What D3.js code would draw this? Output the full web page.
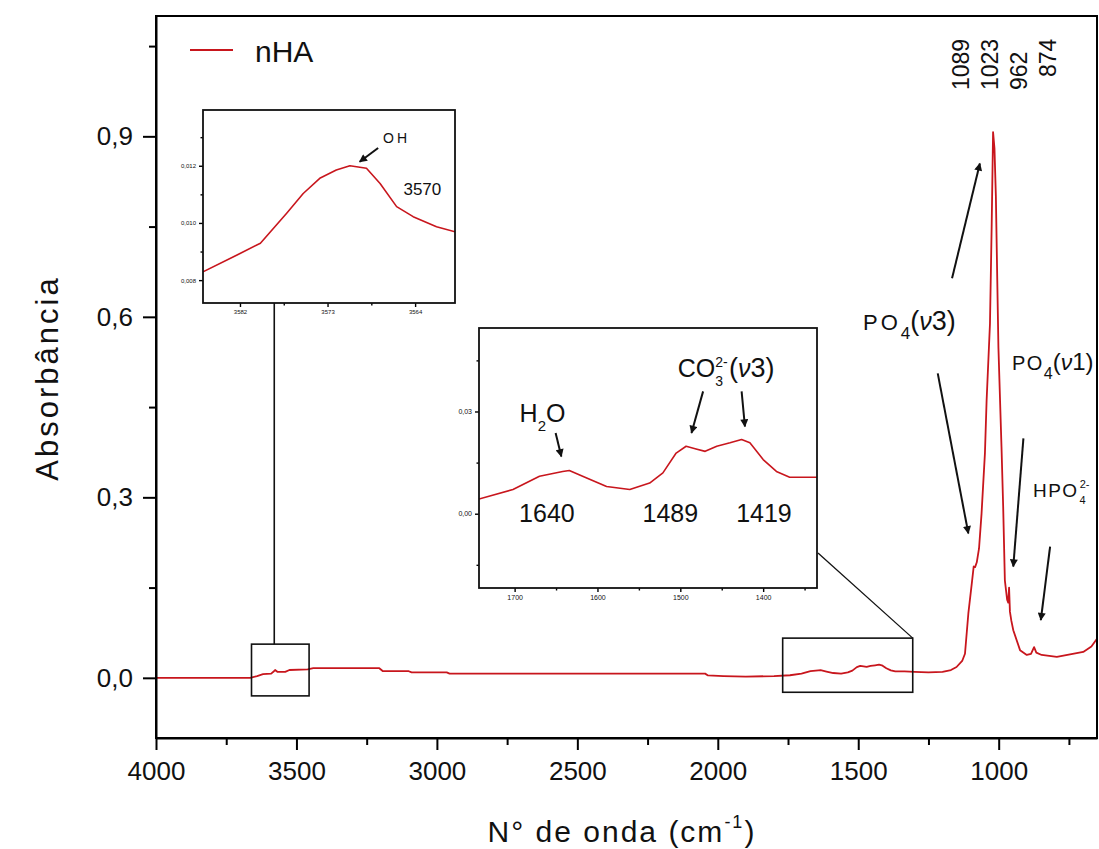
<!DOCTYPE html>
<html>
<head>
<meta charset="utf-8">
<title>FTIR nHA</title>
<script src="https://cdnjs.cloudflare.com/ajax/libs/d3/7.8.5/d3.min.js"></script>
<style>
  body { margin:0; background:#fff; }
  svg { display:block; font-family:"Liberation Sans", Arial, sans-serif; }
  .axis path, .axis line { stroke:#000; }
  .axis text { fill:#111; font-family:"Liberation Sans", Arial, sans-serif; }
  .spec { fill:none; stroke:#c8161d; stroke-width:1.8; stroke-linejoin:round; }
  .frame { fill:none; stroke:#000; stroke-width:2; }
  .arrow { stroke:#111; stroke-width:2; fill:none; }
  .lbl { fill:#111; }
</style>
</head>
<body>
<script>
// spectrum (wavenumber cm-1, absorbance)
var waveNumber = [4000, 3800, 3665, 3640, 3619, 3590, 3580, 3576, 3568, 3540, 3525, 3460, 3440, 3300,
  3205, 3192, 3100, 3090, 2965, 2955, 2800, 2600, 2300, 2045, 2035, 1980, 1900, 1800,
  1743, 1702, 1670, 1642, 1634, 1613, 1589, 1561, 1537, 1521, 1505, 1493, 1481, 1470, 1456,
  1440, 1426, 1416, 1400, 1384, 1368, 1335, 1300, 1250, 1200, 1170, 1150, 1130, 1120, 1108,
  1095, 1089, 1084, 1078, 1070, 1061, 1049, 1043, 1031, 1025, 1020, 1015, 1010, 1005, 1001,
  990, 984, 978, 970, 966, 963, 960, 955, 948, 924, 900, 885, 874, 866, 847, 793, 699, 670, 650];
var absorbance = [0.000, 0.000, 0.000, 0.003, 0.006, 0.007, 0.011, 0.013, 0.010, 0.010, 0.013, 0.014, 0.016, 0.016,
  0.016, 0.011, 0.011, 0.009, 0.009, 0.007, 0.007, 0.007, 0.007, 0.007, 0.004, 0.003, 0.002, 0.003,
  0.0043, 0.0071, 0.011, 0.0124, 0.0127, 0.0105, 0.008, 0.0071, 0.009, 0.012, 0.0178, 0.0198, 0.019, 0.0183, 0.0198,
  0.0208, 0.0218, 0.0208, 0.0159, 0.0124, 0.0107, 0.0107, 0.010, 0.009, 0.010, 0.013, 0.018, 0.028, 0.040, 0.107,
  0.160, 0.185, 0.184, 0.192, 0.215, 0.273, 0.373, 0.461, 0.589, 0.750, 0.907, 0.880, 0.800, 0.660, 0.550,
  0.384, 0.284, 0.162, 0.130, 0.125, 0.150, 0.110, 0.095, 0.079, 0.046, 0.038, 0.040, 0.051, 0.042, 0.038, 0.035, 0.043, 0.052, 0.065];

// OH band inset
var ohWave = [3585.8, 3582.3, 3579.9, 3577.2, 3575.5, 3573.8, 3572.1, 3570.7, 3569.0, 3567.6, 3565.9, 3564.2, 3561.8, 3559.9];
var ohAbs = [0.00829, 0.00888, 0.00929, 0.01034, 0.01103, 0.01156, 0.01185, 0.0120, 0.01191, 0.01138, 0.01057, 0.01022, 0.00987, 0.00969];

var xMajor = [4000, 3500, 3000, 2500, 2000, 1500, 1000];
var xMinor = [3750, 3250, 2750, 2250, 1750, 1250, 750];
var yMajor = [0, 0.3, 0.6, 0.9];
var yMinor = [0.15, 0.45, 0.75, 1.05];

var in1XMajor = [3582, 3573, 3564], in1XMinor = [3577.5, 3568.5];
var in1YMajor = [0.008, 0.010, 0.012], in1YMinor = [0.009, 0.011, 0.013];
var in2XMajor = [1700, 1600, 1500, 1400], in2XMinor = [1650, 1550, 1450, 1350];
var in2YMajor = [0, 0.03], in2YMinor = [-0.015, 0.015, 0.045];

var peakLabels = ["1089", "1023", "962", "874"];
var seriesName = "nHA";

var width = 1099, height = 849;
var pt = d3.formatLocale({decimal: ",", thousands: ".", grouping: [3], currency: ["", ""]});

var svg = d3.select("body").append("svg")
    .attr("width", width)
    .attr("height", height);

var defs = svg.append("defs");
defs.append("marker")
    .attr("id", "head")
    .attr("viewBox", "0 0 10 10")
    .attr("refX", 9).attr("refY", 5)
    .attr("markerUnits", "userSpaceOnUse")
    .attr("markerWidth", 9).attr("markerHeight", 8)
    .attr("orient", "auto")
  .append("path").attr("d", "M0,0L10,5L0,10z").attr("fill", "#111");

var x = d3.scaleLinear().domain([4000, 650]).range([156, 1097]);
var y = d3.scaleLinear().domain([-0.1, 1.1]).range([738, 16]);

var spec = waveNumber.map(function(w, i) { return [w, absorbance[i]]; });
var line = d3.line().x(function(d) { return x(d[0]); }).y(function(d) { return y(d[1]); });

defs.append("clipPath").attr("id", "clipMain")
  .append("rect").attr("x", 156).attr("y", 16).attr("width", 941).attr("height", 722);

svg.append("path").datum(spec)
    .attr("class", "spec")
    .attr("clip-path", "url(#clipMain)")
    .attr("d", line);

// main axes
var gx = svg.append("g").attr("class", "axis").attr("transform", "translate(0,738)")
    .call(d3.axisBottom(x).tickValues(xMajor).tickSize(12).tickSizeOuter(0).tickPadding(12).tickFormat(d3.format("d")));
gx.selectAll("text").style("font-size", "26px");
svg.append("g").attr("class", "axis").attr("transform", "translate(0,738)")
    .call(d3.axisBottom(x).tickValues(xMinor).tickSize(7).tickFormat(""))
    .select(".domain").remove();

var gy = svg.append("g").attr("class", "axis").attr("transform", "translate(156,0)")
    .call(d3.axisLeft(y).tickValues(yMajor).tickSize(13).tickSizeOuter(0).tickPadding(10).tickFormat(pt.format(".1f")));
gy.selectAll("text").style("font-size", "26px");
svg.append("g").attr("class", "axis").attr("transform", "translate(156,0)")
    .call(d3.axisLeft(y).tickValues(yMinor).tickSize(7).tickFormat(""))
    .select(".domain").remove();

svg.selectAll(".axis line, .axis .domain").style("stroke-width", 2);

svg.append("rect").attr("class", "frame")
    .attr("x", 156).attr("y", 16).attr("width", 941).attr("height", 722);

// axis titles
var xt = svg.append("text").attr("class", "lbl")
    .attr("x", 622).attr("y", 842)
    .attr("text-anchor", "middle")
    .style("font-size", "30px").style("letter-spacing", "2px");
xt.append("tspan").text("N° de onda (cm");
xt.append("tspan").attr("dy", -14).style("font-size", "18px").text("-1");
xt.append("tspan").attr("dy", 14).text(")");

svg.append("text").attr("class", "lbl")
    .attr("transform", "translate(58,378) rotate(-90)")
    .attr("text-anchor", "middle")
    .style("font-size", "31px").style("letter-spacing", "3px")
    .text("Absorbância");

// legend
svg.append("line").attr("x1", 190).attr("x2", 233).attr("y1", 50).attr("y2", 50)
    .attr("stroke", "#c8161d").attr("stroke-width", 1.8);
svg.append("text").attr("class", "lbl").attr("x", 255).attr("y", 62)
    .style("font-size", "30px").text(seriesName);

// peak labels, rotated
var peakBottom = [90, 90, 90, 77];
peakLabels.forEach(function(t, i) {
  svg.append("text").attr("class", "lbl")
      .attr("transform", "translate(" + (969 + i * 29) + "," + peakBottom[i] + ") rotate(-90)")
      .style("font-size", "23px")
      .text(t);
});

function arrow(g, sx, sy, a) {
  g.append("line").attr("class", "arrow")
      .attr("x1", sx(a[0])).attr("y1", sy(a[1]))
      .attr("x2", sx(a[2])).attr("y2", sy(a[3]))
      .attr("marker-end", "url(#head)");
}

function richText(g, px, py, parts, anchor) {
  var t = g.append("text").attr("class", "lbl").attr("x", px).attr("y", py)
      .attr("text-anchor", anchor || "start");
  parts.forEach(function(p) {
    var s = t.append("tspan").text(p.t).style("font-size", p.size + "px");
    if (p.dx) s.attr("dx", p.dx);
    if (p.dy) s.attr("dy", p.dy);
    if (p.it) s.style("font-style", "italic");
    if (p.ls) s.style("letter-spacing", p.ls + "px");
  });
  return t;
}

// band annotations on the main plot (data units)
var mainArrows = [[1166, 0.664, 1067, 0.855], [1217, 0.506, 1108, 0.240],
                  [912, 0.398, 948, 0.185], [817, 0.218, 850, 0.096]];
mainArrows.forEach(function(a) { arrow(svg, x, y, a); });

richText(svg, x(1483), y(0.578), [
  {t: "PO", size: 22, ls: 3}, {t: "4", size: 17, dy: 9},
  {t: "(", size: 27, dy: -9}, {t: "ν", size: 25, it: true}, {t: "3)", size: 27}]);
richText(svg, x(953), y(0.511), [
  {t: "PO", size: 20, ls: 1.5}, {t: "4", size: 16, dy: 9},
  {t: "(", size: 24, dy: -9}, {t: "ν", size: 23, it: true}, {t: "1)", size: 24}]);
richText(svg, x(878), y(0.30), [
  {t: "HPO", size: 19, ls: 1.5}, {t: "2-", size: 11, dy: -9, dx: 1},
  {t: "4", size: 11, dx: -10, dy: 16}]);

// small boxes on the spectrum and connectors
var box1 = [3660, 3455, -0.030, 0.056];
var box2 = [1769, 1306, -0.024, 0.066];
[box1, box2].forEach(function(b) {
  svg.append("rect")
      .attr("x", x(b[0])).attr("y", y(b[3]))
      .attr("width", x(b[1]) - x(b[0])).attr("height", y(b[2]) - y(b[3]))
      .attr("fill", "none").attr("stroke", "#111").attr("stroke-width", 1.6);
});

var in1 = {x0: 203, x1: 455, y0: 110, y1: 303};
var in2 = {x0: 479, x1: 817, y0: 328, y1: 588};

svg.append("line").attr("x1", x(3579)).attr("x2", x(3579))
    .attr("y1", y(box1[3])).attr("y2", in1.y1)
    .attr("stroke", "#111").attr("stroke-width", 1.6);
svg.append("line").attr("x1", in2.x1 + 1).attr("y1", 553)
    .attr("x2", x(box2[1])).attr("y2", y(box2[3]))
    .attr("stroke", "#111").attr("stroke-width", 1.3);

// inset drawing
function inset(box, sx, sy, data, xMaj, xMin, yMaj, yMin, yFmt, fs, id) {
  var g = svg.append("g");
  g.append("rect").attr("x", box.x0).attr("y", box.y0)
      .attr("width", box.x1 - box.x0).attr("height", box.y1 - box.y0)
      .attr("fill", "#fff");
  defs.append("clipPath").attr("id", id)
    .append("rect").attr("x", box.x0).attr("y", box.y0)
      .attr("width", box.x1 - box.x0).attr("height", box.y1 - box.y0);
  var l = d3.line().x(function(d) { return sx(d[0]); }).y(function(d) { return sy(d[1]); });
  g.append("path").datum(data).attr("class", "spec")
      .style("stroke-width", 1.6)
      .attr("clip-path", "url(#" + id + ")").attr("d", l);

  var ax = g.append("g").attr("class", "axis").attr("transform", "translate(0," + box.y1 + ")")
      .call(d3.axisBottom(sx).tickValues(xMaj).tickSize(4).tickSizeOuter(0).tickPadding(3).tickFormat(d3.format("d")));
  ax.selectAll("text").style("font-size", fs + "px");
  ax.select(".domain").remove();
  g.append("g").attr("class", "axis").attr("transform", "translate(0," + box.y1 + ")")
      .call(d3.axisBottom(sx).tickValues(xMin).tickSize(2.5).tickFormat(""))
      .select(".domain").remove();
  var ay = g.append("g").attr("class", "axis").attr("transform", "translate(" + box.x0 + ",0)")
      .call(d3.axisLeft(sy).tickValues(yMaj).tickSize(4).tickSizeOuter(0).tickPadding(3).tickFormat(yFmt));
  ay.selectAll("text").style("font-size", fs + "px");
  ay.select(".domain").remove();
  g.append("g").attr("class", "axis").attr("transform", "translate(" + box.x0 + ",0)")
      .call(d3.axisLeft(sy).tickValues(yMin).tickSize(2.5).tickFormat(""))
      .select(".domain").remove();
  g.selectAll(".axis line").style("stroke-width", 1.4);

  g.append("rect").attr("x", box.x0).attr("y", box.y0)
      .attr("width", box.x1 - box.x0).attr("height", box.y1 - box.y0)
      .attr("fill", "none").attr("stroke", "#111").attr("stroke-width", 1.8);
  return g;
}

// OH inset
var x1 = d3.scaleLinear().domain([3585.8, 3559.9]).range([in1.x0, in1.x1]);
var y1 = d3.scaleLinear().domain([0.0072, 0.01395]).range([in1.y1, in1.y0]);
var g1 = inset(in1, x1, y1, ohWave.map(function(w, i) { return [w, ohAbs[i]]; }),
    in1XMajor, in1XMinor, in1YMajor, in1YMinor, pt.format(".3f"), 6, "clip1");
arrow(g1, x1, y1, [3567.8, 0.01262, 3569.7, 0.01214]);
richText(g1, x1(3567.3), y1(0.0128), [{t: "OH", size: 14, ls: 3}]);
richText(g1, x1(3565.2), y1(0.01097), [{t: "3570", size: 17}]);

// carbonate / water inset, same spectrum
var x2 = d3.scaleLinear().domain([1743, 1335]).range([in2.x0, in2.x1]);
var y2 = d3.scaleLinear().domain([-0.0218, 0.0545]).range([in2.y1, in2.y0]);
var g2 = inset(in2, x2, y2, spec.filter(function(d) { return d[0] <= 1800 && d[0] >= 1300; }),
    in2XMajor, in2XMinor, in2YMajor, in2YMinor, pt.format(".2f"), 7, "clip2");
[[1650.5, 0.0237, 1643.6, 0.0168], [1472.5, 0.0359, 1486.5, 0.0237], [1426, 0.0359, 1422, 0.0256]]
  .forEach(function(a) { arrow(g2, x2, y2, a); });
richText(g2, x2(1694), y2(0.027), [{t: "H", size: 25}, {t: "2", size: 15, dy: 9}, {t: "O", size: 25, dy: -9}]);
richText(g2, x2(1503), y2(0.040), [
  {t: "CO", size: 25}, {t: "2-", size: 14, dy: -10},
  {t: "3", size: 14, dx: -12.5, dy: 19}, {t: "(", size: 27, dx: 6, dy: -9},
  {t: "ν", size: 25, it: true}, {t: "3)", size: 27}]);
[["1640", 1661], ["1489", 1512], ["1419", 1399]].forEach(function(p) {
  richText(g2, x2(p[1]), y2(-0.0024), [{t: p[0], size: 25}], "middle");
});
</script>
</body>
</html>
